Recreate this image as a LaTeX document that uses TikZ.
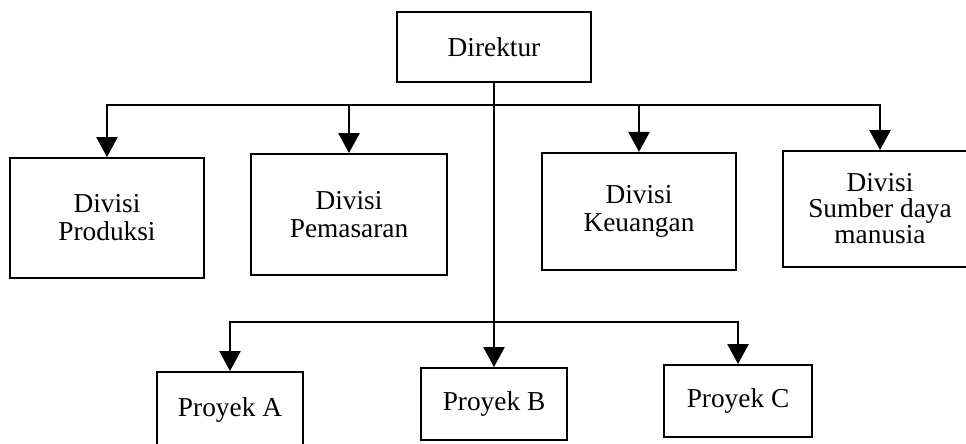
\documentclass[tikz,border=0pt]{standalone}
\usepackage{fontspec}
\setmainfont{Liberation Serif}
\usetikzlibrary{arrows.meta}
\begin{document}
\begin{tikzpicture}[x=0.75pt,y=-0.75pt,
  box/.style={draw,line width=1.5pt,align=center,inner sep=0pt,
    font=\fontsize{20.5}{21}\selectfont},
  arr/.style={line width=1.2pt,-{Triangle[length=15pt,width=16pt]}}]
\clip (0,0) rectangle (966,443);
\fill[white] (0,0) rectangle (966,443);
\node[box,minimum width=145.5pt,minimum height=52.5pt] (dir) at (494,47) {Direktur};
\node[box,minimum width=145.5pt,minimum height=90pt] (prod) at (107,218) {Divisi\\Produksi};
\node[box,minimum width=147pt,minimum height=90.75pt] (pem) at (349,214.5) {Divisi\\Pemasaran};
\node[box,minimum width=145.5pt,minimum height=88pt] (keu) at (639,211.5) {Divisi\\Keuangan};
\node[box,minimum width=145.5pt,minimum height=87pt,font=\fontsize{20.5}{19.5}\selectfont] (sdm) at (880,209) {Divisi\\Sumber daya\\manusia};
\node[box,minimum width=109.5pt,minimum height=57pt] (pa) at (230,410) {Proyek A};
\node[box,minimum width=110pt,minimum height=54pt] (pb) at (494,404) {Proyek B};
\node[box,minimum width=111pt,minimum height=54pt] (pc) at (738,401) {Proyek C};
\coordinate (b1) at (494,105);
\coordinate (b2) at (494,322);
\draw[arr] (dir.south) -- (pb.north);
\draw[arr] (b1) -| (prod.north);
\draw[arr] (b1) -| (pem.north);
\draw[arr] (b1) -| (keu.north);
\draw[arr] (b1) -| (sdm.north);
\draw[arr] (b2) -| (pa.north);
\draw[arr] (b2) -| (pc.north);
\end{tikzpicture}
\end{document}
